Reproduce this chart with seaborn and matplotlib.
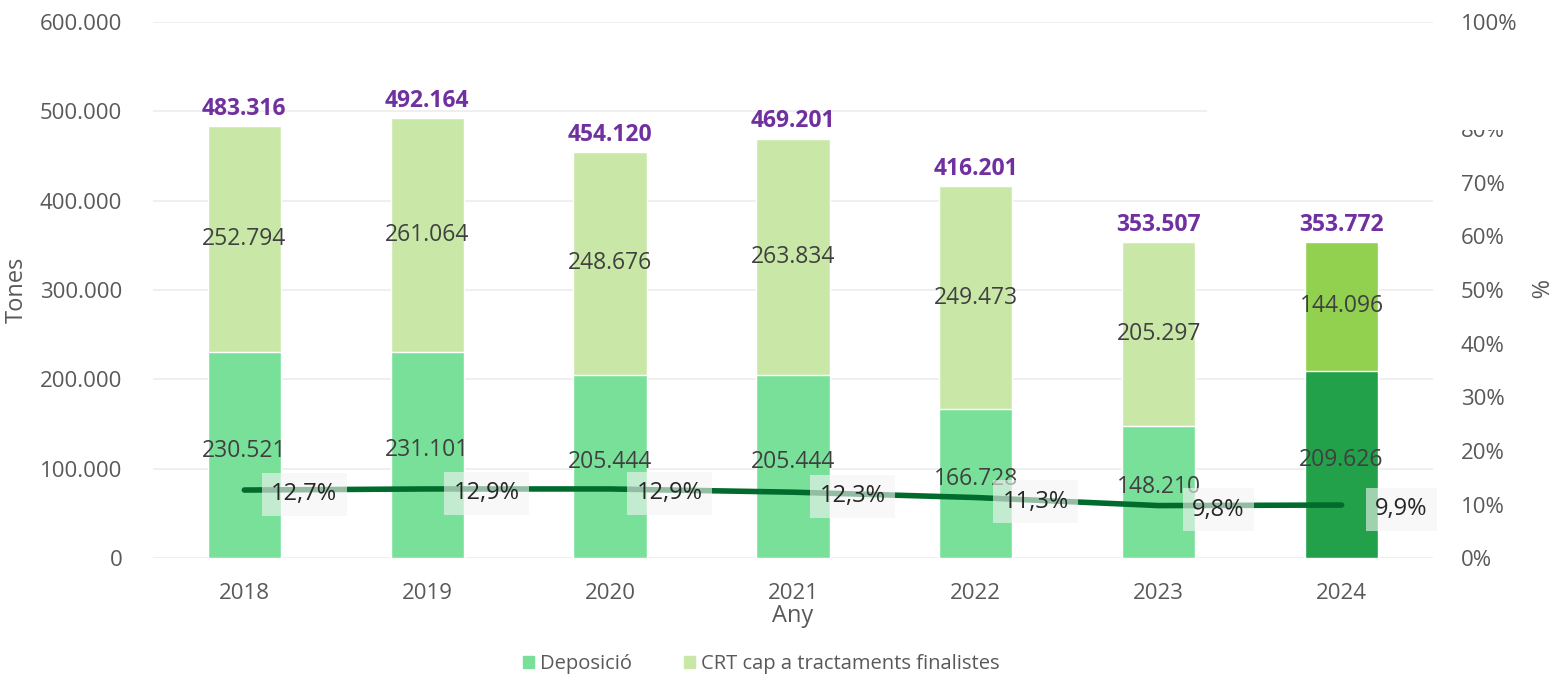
import numpy as np
import pandas as pd
import matplotlib
matplotlib.use('Agg')
import matplotlib.pyplot as plt
from matplotlib.patches import Patch, Rectangle
import seaborn as sns

# Dades
anys = ['2018', '2019', '2020', '2021', '2022', '2023', '2024']
deposicio = [230521, 231101, 205444, 205444, 166728, 148210, 209626]
crt = [252794, 261064, 248676, 263834, 249473, 205297, 144096]
totals = [483316, 492164, 454120, 469201, 416201, 353507, 353772]
percentatge = [12.7, 12.9, 12.9, 12.3, 11.3, 9.8, 9.9]

col_dep = ['#79e09a'] * 6 + ['#22a04a']
col_crt = ['#c9e8a8'] * 6 + ['#92d050']
col_linia = '#006b2c'
col_text = '#595959'
col_total = '#7030a0'

df = pd.DataFrame({'Any': anys, 'Deposicio': deposicio, 'CRT': crt})
df['Apilat'] = df['Deposicio'] + df['CRT']

sns.set_style('white')
plt.rcParams['font.family'] = ['Open Sans', 'DejaVu Sans']


def punts(v):
    return f'{v:,.0f}'.replace(',', '.')


fig = plt.figure(figsize=(15.6, 6.79), dpi=100)
ax = fig.add_axes([0.098, 0.178, 0.8206, 0.7898])

# barres apilades: primer el total (CRT), després la deposició a sobre
sns.barplot(data=df, x='Any', y='Apilat', hue='Any', palette=col_crt, width=0.4,
            legend=False, ax=ax, saturation=1, zorder=2)
sns.barplot(data=df, x='Any', y='Deposicio', hue='Any', palette=col_dep, width=0.4,
            legend=False, ax=ax, saturation=1, zorder=3)

ax.set_ylim(0, 600000)
ax.set_xlim(-0.5, 6.5)
ax.set_yticks(np.arange(0, 600001, 100000))
ax.set_yticklabels([punts(v) for v in np.arange(0, 600001, 100000)])
ax.yaxis.grid(True, color='#ececec', lw=1.2, zorder=0)
ax.set_axisbelow(True)
for s in ax.spines.values():
    s.set_visible(False)
ax.tick_params(axis='both', length=0, labelsize=16, colors=col_text)
ax.tick_params(axis='x', pad=18)
ax.tick_params(axis='y', pad=22)
ax.set_ylabel('Tones', fontsize=17, color=col_text, labelpad=8)
ax.set_xlabel('Any', fontsize=17, color=col_text, labelpad=0)

# etiquetes dels segments
for i in range(len(anys)):
    ax.text(i, deposicio[i] / 2 + 5000, punts(deposicio[i]), ha='center', va='center',
            fontsize=16.5, color='#404040', zorder=6)
    ax.text(i, deposicio[i] + crt[i] / 2, punts(crt[i]), ha='center', va='center',
            fontsize=16.5, color='#404040', zorder=6)
    ax.text(i, deposicio[i] + crt[i] + 6000, punts(totals[i]), ha='center', va='bottom',
            fontsize=16.5, fontweight='bold', color=col_total, zorder=6)

# eix secundari amb el percentatge
ax2 = ax.twinx()
sns.lineplot(x=np.arange(len(anys)), y=percentatge, ax=ax2, color=col_linia, lw=4,
             zorder=5)
ax2.set_ylim(0, 100)
ax2.set_xlim(-0.5, 6.5)
ax2.set_yticks(np.arange(0, 101, 10))
ax2.set_yticklabels([f'{v}%' for v in range(0, 101, 10)])
for s in ax2.spines.values():
    s.set_visible(False)
ax2.tick_params(axis='y', length=0, labelsize=16, colors=col_text, pad=20)
ax2.set_ylabel('%', fontsize=17, color=col_text, rotation=270, labelpad=22)

for i, p in enumerate(percentatge):
    ax2.annotate(f'{p:.1f}%'.replace('.', ','), (i, p), xytext=(43, -3),
                 textcoords='offset points', ha='center', va='center', fontsize=17,
                 color='#262626', zorder=7,
                 bbox=dict(boxstyle='square,pad=0.4', fc='#f4f4f4', ec='none', alpha=0.6))

# llegenda
handles = [Patch(color='#79e09a', label='Deposició'),
           Patch(color='#c9e8a8', label='CRT cap a tractaments finalistes')]
fig.legend(handles=handles, loc='lower center', bbox_to_anchor=(0.488, -0.02), ncol=2,
           frameon=False, fontsize=14.5, handlelength=0.55, handleheight=0.55,
           columnspacing=2.6, handletextpad=0.3, labelcolor=col_text)

# requadre blanc que tapa part de l'eix dret (com a l'original)
fig.patches.append(Rectangle((1207 / 1560, 1 - 130 / 679), 330 / 1560, 95 / 679,
                             transform=fig.transFigure, fc='white', ec='none', zorder=10))

fig.savefig('out.png', dpi=100)
